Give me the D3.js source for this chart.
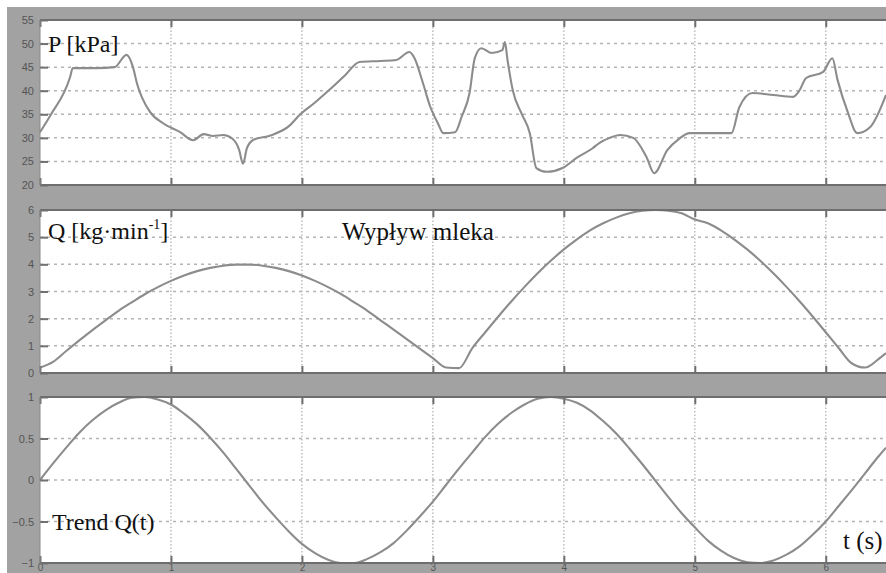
<!DOCTYPE html>
<html><head><meta charset="utf-8">
<script src="https://cdn.jsdelivr.net/npm/d3@7"></script>
<style>body{margin:0;background:#fff}svg{display:block}</style>
</head><body><svg id="c" width="886" height="573"></svg>
<script>
// ---- data ----
const xTicks = [0, 1, 2, 3, 4, 5, 6];
const pTicks = [20, 25, 30, 35, 40, 45, 50, 55];
const qTicks = [0, 1, 2, 3, 4, 5, 6];
const trendTicks = [-1, -0.5, 0, 0.5, 1];

const tP = [0,0.08,0.23,0.25,0.43,0.57,0.66,0.71,0.74,0.84,0.94,1.07,1.17,1.25,1.32,1.40,1.47,1.52,1.55,1.58,1.63,1.76,1.91,1.98,2.1,2.21,2.33,2.44,2.6,2.72,2.82,2.86,2.92,2.98,3.04,3.08,3.17,3.22,3.28,3.32,3.37,3.45,3.53,3.55,3.57,3.61,3.68,3.74,3.79,3.87,3.99,4.1,4.22,4.27,4.35,4.43,4.53,4.63,4.69,4.79,4.88,4.96,5.28,5.34,5.44,5.6,5.75,5.8,5.85,5.98,6.05,6.09,6.17,6.24,6.34,6.46];
const P  = [31.2,34.8,42.9,44.8,44.8,45.0,47.6,45.0,41.6,35.5,33.1,31.2,29.5,30.8,30.4,30.6,29.8,27.5,24.5,27.8,29.6,30.5,32.7,34.8,37.5,40.2,43.3,46.1,46.3,46.5,48.2,46.9,42.0,36.6,33.0,31.0,31.2,34.5,39.5,46.9,49.0,48.0,48.6,50.3,46.5,40.1,35.0,31.0,23.6,22.8,23.6,25.8,27.8,28.9,30.0,30.6,30.0,26.0,22.5,27.4,29.8,31.0,31.0,36.5,39.5,39.1,38.7,40.1,42.7,44.0,46.9,42.3,35.3,31.0,32.3,39.1];

const tQ = [0,0.1,0.2,0.3,0.4,0.5,0.6,0.7,0.8,0.9,1.0,1.1,1.2,1.3,1.4,1.5,1.6,1.7,1.8,1.9,2.0,2.1,2.2,2.3,2.4,2.5,2.6,2.7,2.8,2.9,3.0,3.1,3.2,3.3,3.4,3.5,3.6,3.7,3.8,3.9,4.0,4.1,4.2,4.3,4.4,4.5,4.6,4.7,4.8,4.9,5.0,5.1,5.2,5.3,5.4,5.5,5.6,5.7,5.8,5.9,6.0,6.1,6.2,6.3,6.4,6.46];
const Q = [0.2,0.41,0.81,1.2,1.58,1.94,2.29,2.6,2.9,3.16,3.39,3.59,3.75,3.87,3.95,3.99,3.99,3.95,3.87,3.75,3.59,3.39,3.16,2.9,2.6,2.29,1.94,1.6,1.25,0.9,0.55,0.2,0.18,0.91,1.5,2.08,2.64,3.17,3.67,4.13,4.55,4.92,5.25,5.51,5.72,5.88,5.97,6.0,5.97,5.88,5.65,5.51,5.25,4.92,4.55,4.13,3.67,3.17,2.64,2.08,1.5,0.91,0.35,0.2,0.5,0.73];
const trend = [0,0.2,0.39,0.57,0.72,0.84,0.93,0.99,1.0,0.97,0.91,0.8,0.67,0.51,0.33,0.13,-0.07,-0.27,-0.45,-0.62,-0.77,-0.88,-0.96,-1.0,-1.0,-0.95,-0.87,-0.76,-0.61,-0.44,-0.26,-0.06,0.14,0.33,0.52,0.68,0.81,0.91,0.98,1.0,0.98,0.93,0.84,0.71,0.56,0.38,0.19,-0.01,-0.21,-0.4,-0.57,-0.73,-0.85,-0.94,-0.99,-1.0,-0.97,-0.9,-0.8,-0.66,-0.5,-0.31,-0.12,0.08,0.28,0.39];

// ---- drawing ----
const svg = d3.select('#c');
svg.append('rect').attr('x', 7).attr('y', 7).attr('width', 879).attr('height', 566).attr('fill', '#a2a2a2');

const x = d3.scaleLinear().domain([0, 6.46]).range([40, 886]);

const panels = [
  {t: tP, v: P, domain: [20, 55], top: 20, bottom: 185, ticks: pTicks},
  {t: tQ, v: Q, domain: [0, 6], top: 210, bottom: 373, ticks: qTicks},
  {t: tQ, v: trend, domain: [-1, 1], top: 397, bottom: 563, ticks: trendTicks}
];

panels.forEach((p, i) => {
  const y = d3.scaleLinear().domain(p.domain).range([p.bottom, p.top]);
  const g = svg.append('g');
  g.append('rect').attr('x', 40).attr('y', p.top).attr('width', 846).attr('height', p.bottom - p.top).attr('fill', '#fff');

  // horizontal grid
  g.selectAll('.hg').data(p.ticks.slice(1, -1)).join('line')
    .attr('x1', 40).attr('x2', 886).attr('y1', d => y(d)).attr('y2', d => y(d))
    .attr('stroke', '#b4b4b4').attr('stroke-width', 1.5).attr('stroke-dasharray', '3,4');
  // vertical grid
  g.selectAll('.vg').data(xTicks.slice(1)).join('line')
    .attr('x1', d => x(d)).attr('x2', d => x(d)).attr('y1', p.top).attr('y2', p.bottom)
    .attr('stroke', '#bdbdbd').attr('stroke-width', 1.5).attr('stroke-dasharray', '1.5,2');

  // curve
  const line = d3.line().x((d, k) => x(p.t[k])).y(d => y(d)).curve(d3.curveMonotoneX);
  g.append('path').datum(p.v).attr('d', line).attr('fill', 'none')
    .attr('stroke', '#8c8c8c').attr('stroke-width', 2.1).attr('stroke-linejoin', 'round');

  // x ticks top & bottom (inward)
  g.append('g').attr('transform', `translate(0,${p.top})`)
    .call(d3.axisTop(x).tickValues(xTicks).tickSize(-7).tickFormat(''))
    .call(a => a.select('.domain').remove())
    .call(a => a.selectAll('line').attr('stroke', '#6e6e6e').attr('stroke-width', 2));
  const bx = g.append('g').attr('transform', `translate(0,${p.bottom})`)
    .call(d3.axisBottom(x).tickValues(xTicks).tickSize(-7).tickPadding(1).tickFormat(i === 2 ? d3.format('d') : ''))
    .call(a => a.select('.domain').remove())
    .call(a => a.selectAll('line').attr('stroke', '#6e6e6e').attr('stroke-width', 2));
  bx.selectAll('text').attr('fill', '#555').attr('font-size', 10).attr('font-family', 'Liberation Sans, Arial, sans-serif');

  // y axis (inward ticks)
  const ay = g.append('g').attr('transform', 'translate(40,0)')
    .call(d3.axisLeft(y).tickValues(p.ticks).tickSize(-8).tickPadding(6).tickFormat(d3.format('')))
    .call(a => a.select('.domain').remove())
    .call(a => a.selectAll('line').attr('stroke', '#707070').attr('stroke-width', 2));
  ay.selectAll('text').attr('fill', '#555').attr('font-size', 11).attr('font-family', 'Liberation Sans, Arial, sans-serif');

  // frame lines
  g.append('line').attr('x1', 40).attr('x2', 886).attr('y1', p.top).attr('y2', p.top).attr('stroke', '#6e6e6e').attr('stroke-width', 2);
  g.append('line').attr('x1', 40).attr('x2', 886).attr('y1', p.bottom).attr('y2', p.bottom).attr('stroke', '#6e6e6e').attr('stroke-width', 2);
  g.append('line').attr('x1', 40).attr('x2', 40).attr('y1', p.top).attr('y2', p.bottom).attr('stroke', '#8a8a8a').attr('stroke-width', 1);
});

// ---- text labels ----
const font = 'Liberation Serif, Times New Roman, serif';
function label(txt, xp, yp, size) {
  return svg.append('text').attr('x', xp).attr('y', yp).attr('font-family', font)
    .attr('font-size', size).attr('fill', '#111').text(txt);
}
label('P [kPa]', 48, 52, 24);
const qt = svg.append('text').attr('x', 48).attr('y', 239).attr('font-family', font).attr('font-size', 24).attr('fill', '#111');
qt.append('tspan').text('Q [kg·min');
qt.append('tspan').attr('font-size', 14).attr('dy', -10).text('-1');
qt.append('tspan').attr('dy', 10).text(']');
label('Wypływ mleka', 342, 240, 25);
label('Trend Q(t)', 52, 530, 24);
label('t (s)', 843, 549, 25);
</script>
</body></html>
